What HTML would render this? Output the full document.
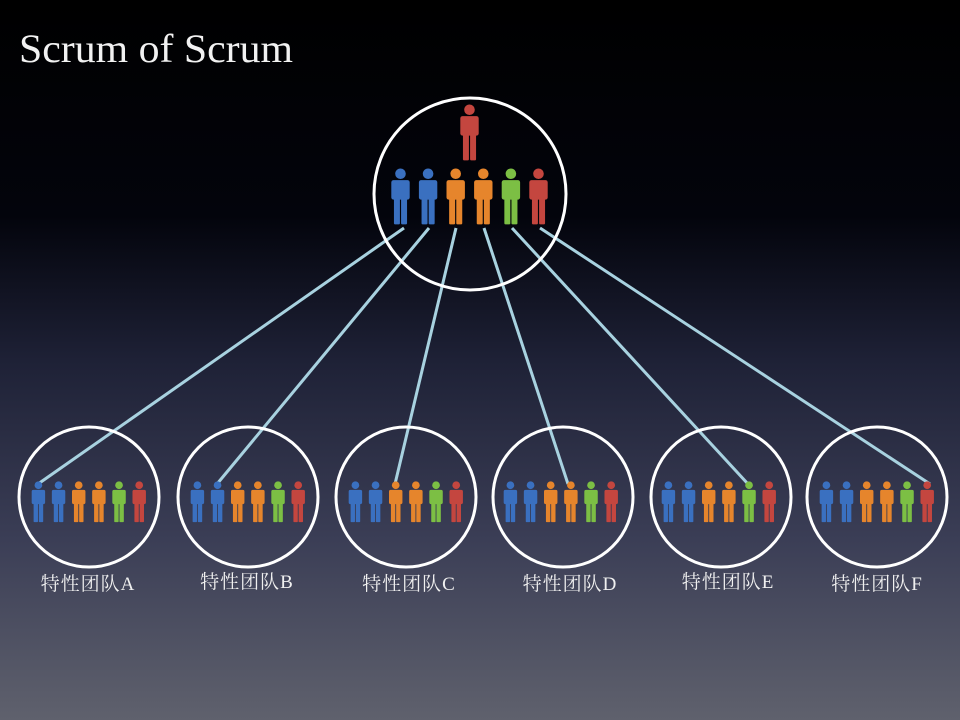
<!DOCTYPE html>
<html><head><meta charset="utf-8"><style>html,body{margin:0;padding:0;width:960px;height:720px;overflow:hidden;background:#000}</style></head>
<body>
<svg width="960" height="720" viewBox="0 0 960 720" xmlns="http://www.w3.org/2000/svg">
<defs>
<linearGradient id="bg" x1="0" y1="0" x2="0" y2="1">
<stop offset="0" stop-color="#000"/>
<stop offset="0.3" stop-color="#03040c"/>
<stop offset="0.5" stop-color="#1e2136"/>
<stop offset="0.75" stop-color="#3b3e56"/>
<stop offset="1" stop-color="#5f616d"/>
</linearGradient>
<g id="p">
<circle cx="10" cy="5" r="4.6"/>
<rect x="2" y="10.5" width="16" height="17" rx="2"/>
<rect x="4.3" y="26" width="5.2" height="23" rx="1"/>
<rect x="10.5" y="26" width="5.2" height="23" rx="1"/>
</g>
<g id="row">
<use href="#p" x="0" fill="#3a70c0"/>
<use href="#p" x="24" fill="#3a70c0"/>
<use href="#p" x="48" fill="#e6852c"/>
<use href="#p" x="72" fill="#e6852c"/>
<use href="#p" x="96" fill="#7cbf44"/>
<use href="#p" x="120" fill="#c4463f"/>
</g>
</defs>
<rect width="960" height="720" fill="url(#bg)"/>
<text x="19" y="62" font-family="Liberation Serif, serif" font-size="40" fill="#f2f2f2" textLength="274" lengthAdjust="spacingAndGlyphs">Scrum of Scrum</text>
<g stroke="#a8d2e0" stroke-width="3" fill="none">
<line x1="404" y1="228" x2="38" y2="484"/>
<line x1="429" y1="228" x2="217" y2="484"/>
<line x1="456" y1="228" x2="395" y2="484"/>
<line x1="484" y1="228" x2="568" y2="484"/>
<line x1="512" y1="228" x2="748" y2="484"/>
<line x1="540" y1="228" x2="930" y2="484"/>
</g>
<circle cx="470" cy="194" r="96" fill="none" stroke="#fff" stroke-width="3"/>
<use href="#p" transform="translate(458,104) scale(1.15)" fill="#c4463f"/>
<g transform="translate(389,168) scale(1.15)"><use href="#row"/></g>
<g fill="none" stroke="#fff" stroke-width="3">
<circle cx="89" cy="497" r="70"/><circle cx="248" cy="497" r="70"/><circle cx="406" cy="497" r="70"/>
<circle cx="563" cy="497" r="70"/><circle cx="721" cy="497" r="70"/><circle cx="877" cy="497" r="70"/>
</g>
<g transform="translate(30,481) scale(0.84)"><use href="#row"/></g>
<g transform="translate(189,481) scale(0.84)"><use href="#row"/></g>
<g transform="translate(347,481) scale(0.84)"><use href="#row"/></g>
<g transform="translate(502,481) scale(0.84)"><use href="#row"/></g>
<g transform="translate(660,481) scale(0.84)"><use href="#row"/></g>
<g transform="translate(818,481) scale(0.84)"><use href="#row"/></g>
<g font-family="Liberation Serif, 'Noto Serif CJK SC', serif" font-size="19" fill="#f0f0f0" text-anchor="middle" letter-spacing="1">
<text x="88" y="590">特性团队A</text>
<text x="247" y="588">特性团队B</text>
<text x="409" y="590">特性团队C</text>
<text x="570" y="590">特性团队D</text>
<text x="728" y="588">特性团队E</text>
<text x="877" y="590">特性团队F</text>
</g>
</svg>
</body></html>
